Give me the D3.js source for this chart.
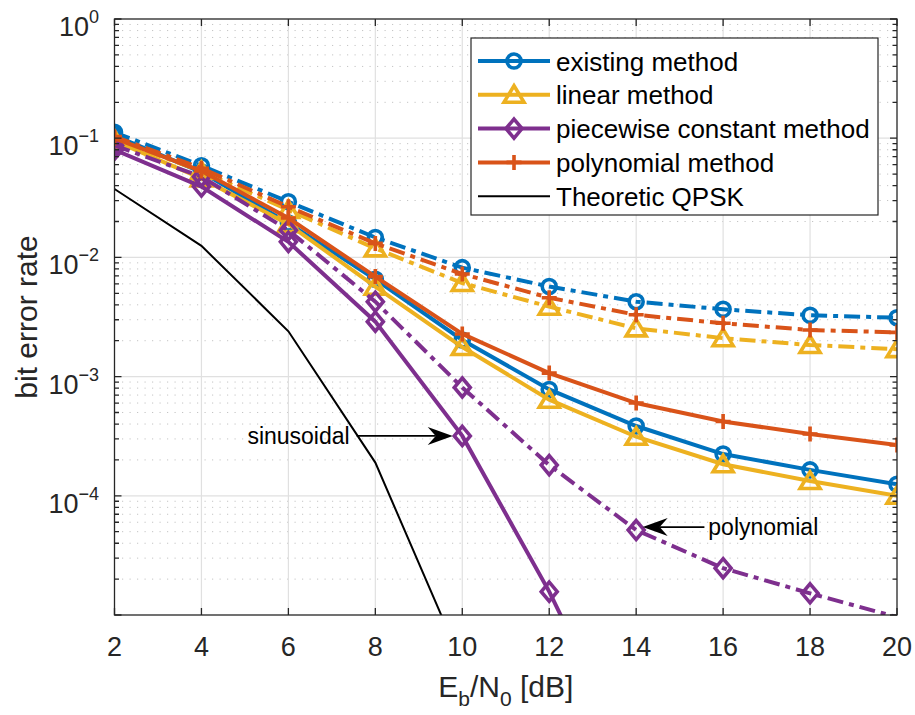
<!DOCTYPE html>
<html>
<head>
<meta charset="utf-8">
<script src="https://cdn.jsdelivr.net/npm/d3@7"></script>
<style>
  html, body { margin: 0; padding: 0; background: #fff; }
  svg { display: block; font-family: "Liberation Sans", Arial, Helvetica, sans-serif; }
</style>
</head>
<body>
<div id="ber-chart"></div>
<script>
// Eb/N0 points (dB)
const ebn0 = [2, 4, 6, 8, 10, 12, 14, 16, 18, 20];

// solid curves = sinusoidal, dash-dot curves = polynomial
const existingSinusoidal = [0.105, 0.052, 0.0194, 0.00655, 0.00203, 0.00078, 0.000385, 0.000224, 0.000165, 0.000125];
const existingPolynomial = [0.112, 0.0588, 0.0293, 0.0147, 0.0082, 0.0057, 0.00425, 0.00367, 0.00327, 0.00312];
const linearSinusoidal = [0.095, 0.046, 0.019, 0.00568, 0.00177, 0.00064, 0.000313, 0.000184, 0.000133, 0.0001];
const linearPolynomial = [0.097, 0.053, 0.025, 0.0119, 0.0061, 0.00386, 0.00254, 0.0021, 0.00184, 0.0017];
const piecewiseSinusoidal = [0.08, 0.0393, 0.0135, 0.00289, 0.000318, 1.57e-5, 5e-7];
const piecewisePolynomial = [0.087, 0.0475, 0.0169, 0.00425, 0.00081, 0.000181, 5.16e-5, 2.47e-5, 1.52e-5, 9.6e-6];
const polynomialSinusoidal = [0.1, 0.053, 0.0214, 0.0069, 0.00228, 0.00107, 0.0006, 0.00042, 0.00033, 0.000267];
const polynomialPolynomial = [0.103, 0.056, 0.0266, 0.0131, 0.00726, 0.00459, 0.0033, 0.0028, 0.00246, 0.00235];
const theoreticQpsk = [0.0375, 0.0125, 0.0024, 1.9e-4, 3.9e-6];

const xTicks = [2, 4, 6, 8, 10, 12, 14, 16, 18, 20];
const yDecades = [-5, -4, -3, -2, -1, 0];
const legendLabels = ["existing method", "linear method", "piecewise constant method", "polynomial method", "Theoretic QPSK"];

const W = 915, H = 715;
const plot = {left: 114.5, right: 897, top: 19, bottom: 615};
const axisColor = "#262626";
const lineW = 4;
const dashDot = "16,6,5,6";

const svg = d3.select("#ber-chart").append("svg")
    .attr("width", W).attr("height", H);

const x = d3.scaleLinear().domain([2, 20]).range([plot.left, plot.right]);
const y = d3.scaleLog().domain([1e-5, 1]).range([plot.bottom, plot.top]);

svg.append("defs").append("clipPath").attr("id", "plot-clip")
    .append("rect")
    .attr("x", plot.left).attr("y", plot.top)
    .attr("width", plot.right - plot.left).attr("height", plot.bottom - plot.top);

// Minor grid (horizontal, dotted)
const minorVals = [];
yDecades.slice(0, -1).forEach(d => {
    for (let k = 2; k <= 9; k++) minorVals.push(k * Math.pow(10, d));
});
svg.append("g").selectAll("line").data(minorVals).join("line")
    .attr("x1", plot.left).attr("x2", plot.right)
    .attr("y1", d => y(d)).attr("y2", d => y(d))
    .attr("stroke", "#c4c4c4").attr("stroke-width", 1)
    .attr("stroke-dasharray", "1.2,6.3");

// Major grid
const grid = svg.append("g").attr("stroke", "#e0e0e0").attr("stroke-width", 1.2);
grid.selectAll(".gx").data(xTicks.slice(1, -1)).join("line")
    .attr("x1", d => x(d)).attr("x2", d => x(d))
    .attr("y1", plot.top).attr("y2", plot.bottom);
grid.selectAll(".gy").data(yDecades.slice(1, -1)).join("line")
    .attr("x1", plot.left).attr("x2", plot.right)
    .attr("y1", d => y(Math.pow(10, d))).attr("y2", d => y(Math.pow(10, d)));

// Marker shapes
const markerPath = {
    circle: "M7,0A7,7 0 1,1 -7,0A7,7 0 1,1 7,0Z",
    triangle: "M0,-9L10,7.5L-10,7.5Z",
    diamond: "M0,-9.5L8,0L0,9.5L-8,0Z",
    plus: "M-7.5,0H7.5M0,-7.5V7.5"
};

const series = [
    {values: existingSinusoidal, color: "#0072BD", marker: "circle", dash: null},
    {values: existingPolynomial, color: "#0072BD", marker: "circle", dash: dashDot},
    {values: linearSinusoidal, color: "#EDB120", marker: "triangle", dash: null},
    {values: linearPolynomial, color: "#EDB120", marker: "triangle", dash: dashDot},
    {values: piecewiseSinusoidal, color: "#7E2F8E", marker: "diamond", dash: null},
    {values: piecewisePolynomial, color: "#7E2F8E", marker: "diamond", dash: dashDot},
    {values: polynomialSinusoidal, color: "#D95319", marker: "plus", dash: null},
    {values: polynomialPolynomial, color: "#D95319", marker: "plus", dash: dashDot}
];

const line = d3.line().x(d => x(d.x)).y(d => y(d.v));
const plotArea = svg.append("g").attr("clip-path", "url(#plot-clip)");

series.forEach(s => {
    const pts = s.values.map((v, i) => ({x: ebn0[i], v: v}));
    plotArea.append("path")
        .datum(pts)
        .attr("fill", "none")
        .attr("stroke", s.color)
        .attr("stroke-width", lineW)
        .attr("stroke-dasharray", s.dash)
        .attr("d", line);
    // markers are only drawn for points inside the axes
    plotArea.selectAll(null)
        .data(pts.filter(p => p.v >= 1e-5))
        .join("path")
        .attr("transform", d => `translate(${x(d.x)},${y(d.v)})`)
        .attr("d", markerPath[s.marker])
        .attr("fill", "none")
        .attr("stroke", s.color)
        .attr("stroke-width", 3.6);
});

plotArea.append("path")
    .datum(theoreticQpsk.map((v, i) => ({x: ebn0[i], v: v})))
    .attr("fill", "none")
    .attr("stroke", "#000")
    .attr("stroke-width", 2)
    .attr("d", line);

// Annotations with arrows
function arrow(x1, x2, yv) {
    const g = svg.append("g");
    const yy = y(yv);
    const tipX = x(x2), tailX = x(x1);
    const dir = tipX > tailX ? 1 : -1;
    const L = 25, Wd = 9, notch = 17;
    g.append("line")
        .attr("x1", tailX).attr("x2", tipX - dir * notch)
        .attr("y1", yy).attr("y2", yy)
        .attr("stroke", "#000").attr("stroke-width", 1.8);
    g.append("path")
        .attr("d", `M${tipX},${yy}L${tipX - dir * L},${yy - Wd}L${tipX - dir * notch},${yy}L${tipX - dir * L},${yy + Wd}Z`)
        .attr("fill", "#000");
}
arrow(7.57, 9.78, piecewiseSinusoidal[4]);
svg.append("text")
    .attr("x", x(7.41)).attr("y", y(piecewiseSinusoidal[4]) + 8)
    .attr("text-anchor", "end")
    .attr("font-size", 23).attr("fill", "#000")
    .text("sinusoidal");

arrow(15.57, 14.15, piecewisePolynomial[6] * 1.06);
svg.append("text")
    .attr("x", x(15.66)).attr("y", y(piecewisePolynomial[6] * 1.06) + 8)
    .attr("font-size", 23).attr("fill", "#000")
    .text("polynomial");

// Axes box and ticks
const axes = svg.append("g").attr("stroke", axisColor).attr("stroke-width", 1.3);
axes.append("rect")
    .attr("x", plot.left).attr("y", plot.top)
    .attr("width", plot.right - plot.left).attr("height", plot.bottom - plot.top)
    .attr("fill", "none");

axes.selectAll(".xt").data(xTicks).join("path")
    .attr("d", d => `M${x(d)},${plot.bottom}v-7M${x(d)},${plot.top}v7`);
axes.selectAll(".ymaj").data(yDecades).join("path")
    .attr("d", d => `M${plot.left},${y(Math.pow(10, d))}h7M${plot.right},${y(Math.pow(10, d))}h-7`);
axes.selectAll(".ymin").data(minorVals).join("path")
    .attr("d", d => `M${plot.left},${y(d)}h4.5M${plot.right},${y(d)}h-4.5`);

// Tick labels
svg.append("g").selectAll("text").data(xTicks).join("text")
    .attr("x", d => x(d)).attr("y", 656)
    .attr("text-anchor", "middle")
    .attr("font-size", 27).attr("fill", axisColor)
    .text(d => d);

const yLab = svg.append("g").selectAll("text").data(yDecades.slice(1)).join("text")
    .attr("x", 99).attr("y", d => y(Math.pow(10, d)) + 17)
    .attr("text-anchor", "end")
    .attr("font-size", 27).attr("fill", axisColor);
yLab.append("tspan").text("10");
yLab.append("tspan")
    .attr("dy", -13).attr("font-size", 18)
    .text(d => d === 0 ? "0" : "\u2212" + Math.abs(d));

// Axis labels
svg.append("text")
    .attr("transform", `translate(37,${(plot.top + plot.bottom) / 2}) rotate(-90)`)
    .attr("text-anchor", "middle")
    .attr("font-size", 30).attr("fill", axisColor)
    .text("bit error rate");

const xl = svg.append("text")
    .attr("x", (plot.left + plot.right) / 2).attr("y", 697)
    .attr("text-anchor", "middle")
    .attr("font-size", 30).attr("fill", axisColor);
xl.append("tspan").text("E");
xl.append("tspan").attr("font-size", 21).attr("dy", 9).text("b");
xl.append("tspan").attr("dy", -9).text("/N");
xl.append("tspan").attr("font-size", 21).attr("dy", 9).text("0");
xl.append("tspan").attr("dy", -9).text(" [dB]");

// Legend
const legend = svg.append("g");
legend.append("rect")
    .attr("x", 471).attr("y", 38).attr("width", 407).attr("height", 177)
    .attr("fill", "#fff").attr("stroke", axisColor).attr("stroke-width", 1.2);
const legendItems = [
    {color: "#0072BD", marker: "circle", width: lineW},
    {color: "#EDB120", marker: "triangle", width: lineW},
    {color: "#7E2F8E", marker: "diamond", width: lineW},
    {color: "#D95319", marker: "plus", width: lineW},
    {color: "#000", marker: null, width: 2}
];
legendItems.forEach((it, i) => {
    const cy = 61 + i * 33.8;
    legend.append("line")
        .attr("x1", 478).attr("x2", 550).attr("y1", cy).attr("y2", cy)
        .attr("stroke", it.color).attr("stroke-width", it.width);
    if (it.marker) {
        legend.append("path")
            .attr("transform", `translate(514,${cy})`)
            .attr("d", markerPath[it.marker])
            .attr("fill", "none").attr("stroke", it.color).attr("stroke-width", 3.6);
    }
    legend.append("text")
        .attr("x", 556).attr("y", cy + 9.5)
        .attr("font-size", 26).attr("fill", "#000")
        .text(legendLabels[i]);
});
</script>
</body>
</html>
